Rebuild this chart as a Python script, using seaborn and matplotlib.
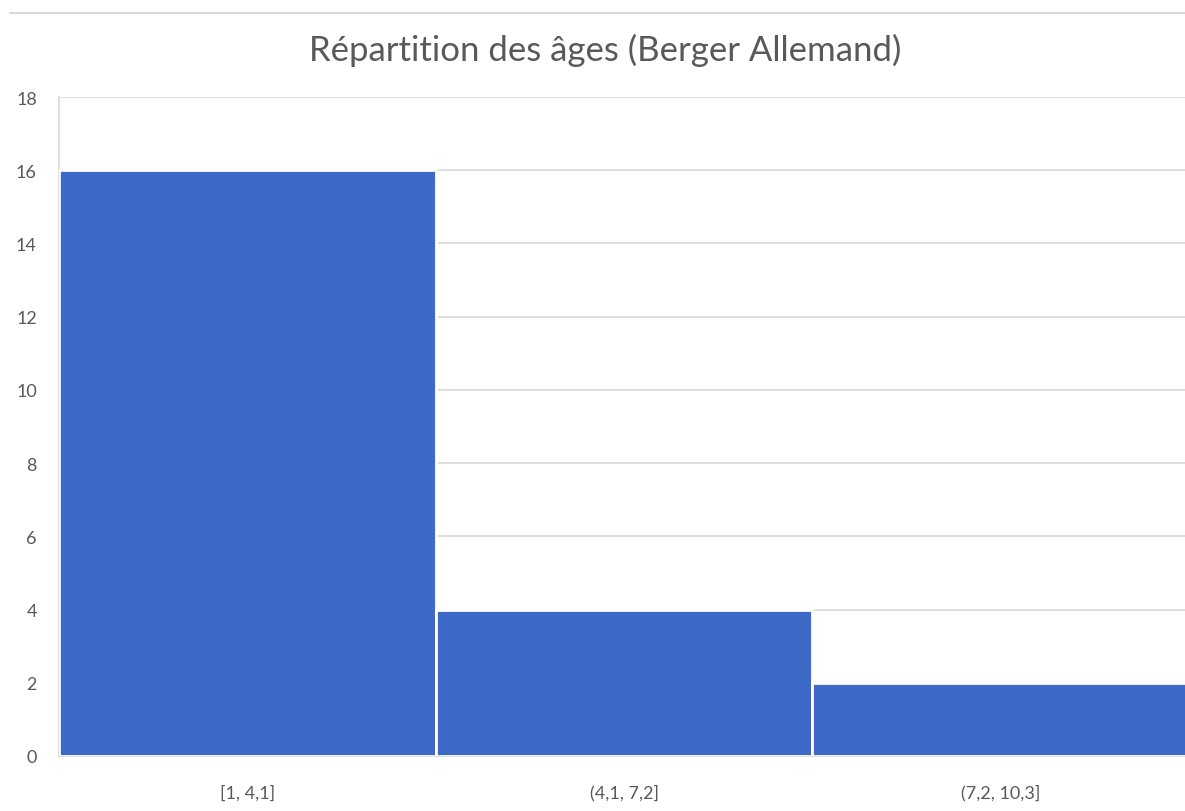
import pandas as pd
import seaborn as sns
import matplotlib.pyplot as plt
from matplotlib.lines import Line2D

categories = ['[1, 4,1]', '(4,1, 7,2]', '(7,2, 10,3]']
counts = [16, 4, 2]
yticks = [0, 2, 4, 6, 8, 10, 12, 14, 16, 18]

df = pd.DataFrame({'classe': categories, 'effectif': counts})

sns.set_style('white')
plt.rcParams['font.family'] = ['Lato', 'DejaVu Sans']

fig = plt.figure(figsize=(11.85, 8.12), dpi=100)
ax = fig.add_axes([59 / 1185, 1 - 757 / 812, 1130 / 1185, (757 - 98) / 812])

sns.barplot(data=df, x='classe', y='effectif', color='#3D69C8', width=1.0,
            edgecolor='white', linewidth=2, saturation=1, ax=ax, zorder=3)

ax.set_xlim(-0.5, 2.5)
ax.set_ylim(0, 18)
ax.set_yticks(yticks)
ax.grid(axis='y', color='#D9D9D9', linewidth=1.2, zorder=0)
ax.set_axisbelow(True)
for s in ['top', 'right']:
    ax.spines[s].set_visible(False)
for s in ['left', 'bottom']:
    ax.spines[s].set_color('#D9D9D9')
    ax.spines[s].set_linewidth(1.2)
ax.tick_params(axis='both', length=0, labelsize=13, colors='#595959')
ax.tick_params(axis='y', pad=16)
ax.tick_params(axis='x', pad=20)
ax.set_xlabel('')
ax.set_ylabel('')

fig.text(605 / 1185, 1 - 50 / 812, 'Répartition des âges (Berger Allemand)',
         ha='center', va='center', fontsize=25, color='#595959')
fig.add_artist(Line2D([10 / 1185, 1], [1 - 14 / 812, 1 - 14 / 812],
                      color='#D9D9D9', linewidth=1.5))

plt.savefig('out.png', dpi=100)
